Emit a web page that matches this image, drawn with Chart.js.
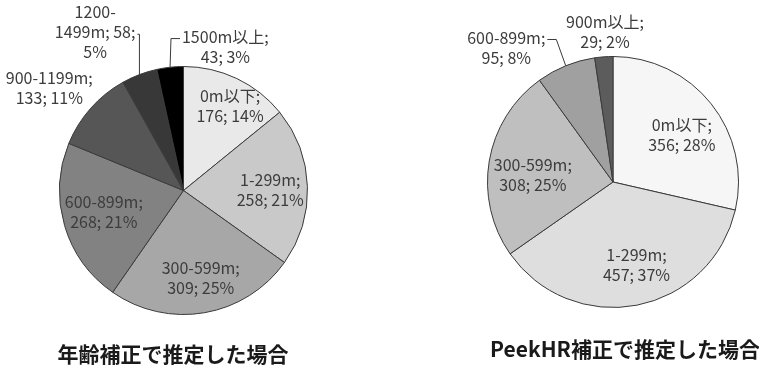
<!DOCTYPE html>
<html>
<head>
<meta charset="utf-8">
<script src="https://cdn.jsdelivr.net/npm/chart.js@4/dist/chart.umd.min.js"></script>
<style>
  html, body { margin: 0; padding: 0; background: #fff; }
  #wrap { position: relative; width: 759px; height: 369px; overflow: hidden; }
  .pane { position: absolute; top: 0; height: 369px; }
</style>
</head>
<body>
<div id="wrap">
  <div class="pane" style="left:0;width:370px"><canvas id="ageChart" width="370" height="369"></canvas></div>
  <div class="pane" style="left:380px;width:379px"><canvas id="hrChart" width="379" height="369"></canvas></div>
</div>
<script>
// Altitude bands and counts, age-corrected estimate
const ageCategories = ['0m以下', '1-299m', '300-599m', '600-899m', '900-1199m', '1200-1499m', '1500m以上'];
const ageCounts = [176, 258, 309, 268, 133, 58, 43];
const agePercents = [14, 21, 25, 21, 11, 5, 3];
const ageTitle = '年齢補正で推定した場合';

// Altitude bands and counts, PeekHR-corrected estimate
const hrCategories = ['0m以下', '1-299m', '300-599m', '600-899m', '900m以上'];
const hrCounts = [356, 457, 308, 95, 29];
const hrPercents = [28, 37, 25, 8, 2];
const hrTitle = 'PeekHR補正で推定した場合';

// Slice fills
const ageColors = ['#e9e9e9', '#c9c9c9', '#a7a7a7', '#828282', '#565656', '#383838', '#000000'];
const hrColors = ['#f6f6f6', '#dedede', '#bfbfbf', '#a0a0a0', '#5c5c5c'];

// Label placement: radial factor of the outer radius, pixel nudge, wrap width, leader line
const ageLabelLayout = [
  { f: 0.78, dx: 5, dy: 3 },
  { f: 0.70, dx: 0, dy: 2 },
  { f: 0.72, dx: 2, dy: -1 },
  { f: 0.67, dx: 0, dy: -2 },
  { f: 1.36, dx: -8, dy: 9 },
  { f: 1.46, dx: -24, dy: 11, wrap: 86, hyphen: true, leader: true },
  { f: 1.20, dx: 58, dy: 4, leader: true }
];
const hrLabelLayout = [
  { f: 0.66, dx: 4, dy: 5 },
  { f: 0.69, dx: 7, dy: -2 },
  { f: 0.64, dx: -1, dy: 6 },
  { f: 1.20, dx: -50, dy: 5, leader: true },
  { f: 1.20, dx: 3, dy: 0 }
];

const LABEL_FONT = '16px "Noto Sans CJK JP", "Noto Sans", sans-serif';
const LABEL_COLOR = '#3c3c3c';
const LINE_H = 20;

function tokenize(text, hyphen) {
  // split on "; " boundaries (keeping the ";"), and optionally after "-"
  const parts = text.split(' ');
  const tokens = [];
  parts.forEach((p, i) => {
    if (hyphen && p.indexOf('-') > 0) {
      const k = p.indexOf('-');
      tokens.push({ t: p.slice(0, k + 1), sp: i > 0 });
      tokens.push({ t: p.slice(k + 1), sp: false });
    } else {
      tokens.push({ t: p, sp: i > 0 });
    }
  });
  return tokens;
}

function wrapLabel(ctx, text, maxW, hyphen) {
  const tokens = tokenize(text, hyphen);
  const lines = [];
  let cur = '';
  tokens.forEach(tok => {
    if (cur === '') { cur = tok.t; return; }
    const trial = cur + (tok.sp ? ' ' : '') + tok.t;
    if (ctx.measureText(trial).width > maxW) {
      lines.push(cur);
      cur = tok.t;
    } else {
      cur = trial;
    }
  });
  if (cur) lines.push(cur);
  return lines;
}

const pieLabels = {
  id: 'pieLabels',
  afterDatasetsDraw(chart, args, opts) {
    const ctx = chart.ctx;
    const meta = chart.getDatasetMeta(0);
    const ds = chart.data.datasets[0];
    ctx.save();
    ctx.font = LABEL_FONT;
    ctx.fillStyle = LABEL_COLOR;
    ctx.textAlign = 'center';
    ctx.textBaseline = 'middle';
    meta.data.forEach((arc, i) => {
      const p = arc.getProps(['x', 'y', 'startAngle', 'endAngle', 'outerRadius'], true);
      const mid = (p.startAngle + p.endAngle) / 2;
      const lay = opts.layout[i];
      const ax = p.x + Math.cos(mid) * p.outerRadius * lay.f + lay.dx;
      const ay = p.y + Math.sin(mid) * p.outerRadius * lay.f + lay.dy;
      const text = chart.data.labels[i] + '; ' + ds.data[i] + '; ' + opts.percents[i] + '%';
      const lines = wrapLabel(ctx, text, lay.wrap || 75, !!lay.hyphen);
      const top = ay - (lines.length - 1) * LINE_H / 2;
      lines.forEach((ln, k) => ctx.fillText(ln, ax, top + k * LINE_H));

      if (lay.leader) {
        // leader from the widest label line to the slice edge
        let wi = 0, ww = 0;
        lines.forEach((ln, k) => { const w = ctx.measureText(ln).width; if (w > ww) { ww = w; wi = k; } });
        const ex = p.x + Math.cos(mid) * p.outerRadius;
        const ey = p.y + Math.sin(mid) * p.outerRadius;
        const right = ex > ax;
        const sx = right ? ax + ww / 2 + 2 : ax - ww / 2 - 2;
        const sy = top + wi * LINE_H + 2;
        const stub = Math.min(9, Math.abs(ex - sx));
        ctx.beginPath();
        ctx.strokeStyle = '#3a3a3a';
        ctx.lineWidth = 1;
        ctx.moveTo(sx, sy);
        ctx.lineTo(right ? sx + stub : sx - stub, sy);
        ctx.lineTo(ex, ey);
        ctx.stroke();
      }
    });
    ctx.restore();
  },
  afterDraw(chart, args, opts) {
    const ctx = chart.ctx;
    ctx.save();
    ctx.font = opts.titleFont;
    ctx.fillStyle = '#1a1a1a';
    ctx.textAlign = 'center';
    ctx.textBaseline = 'middle';
    ctx.fillText(opts.title, opts.titleX, opts.titleY);
    ctx.restore();
  }
};

function makePie(id, cats, counts, percents, colors, padding, layout, title, titleX, titleY, titleFont) {
  return new Chart(document.getElementById(id), {
    type: 'pie',
    data: {
      labels: cats,
      datasets: [{
        data: counts,
        backgroundColor: colors,
        borderColor: '#3a3a3a',
        borderWidth: 1
      }]
    },
    options: {
      responsive: false,
      animation: false,
      rotation: 0,
      layout: { padding },
      plugins: {
        legend: { display: false },
        tooltip: { enabled: false },
        pieLabels: { layout, percents, title, titleX, titleY, titleFont }
      }
    },
    plugins: [pieLabels]
  });
}

makePie('ageChart', ageCategories, ageCounts, agePercents, ageColors,
  { left: 59, top: 66, right: 62, bottom: 54 }, ageLabelLayout,
  ageTitle, 173, 354, 'bold 21px "Noto Sans CJK JP", sans-serif');

makePie('hrChart', hrCategories, hrCounts, hrPercents, hrColors,
  { left: 107, top: 56, right: 20, bottom: 61 }, hrLabelLayout,
  hrTitle, 245, 349, 'bold 21px "Noto Sans CJK JP", sans-serif');
</script>
</body>
</html>
